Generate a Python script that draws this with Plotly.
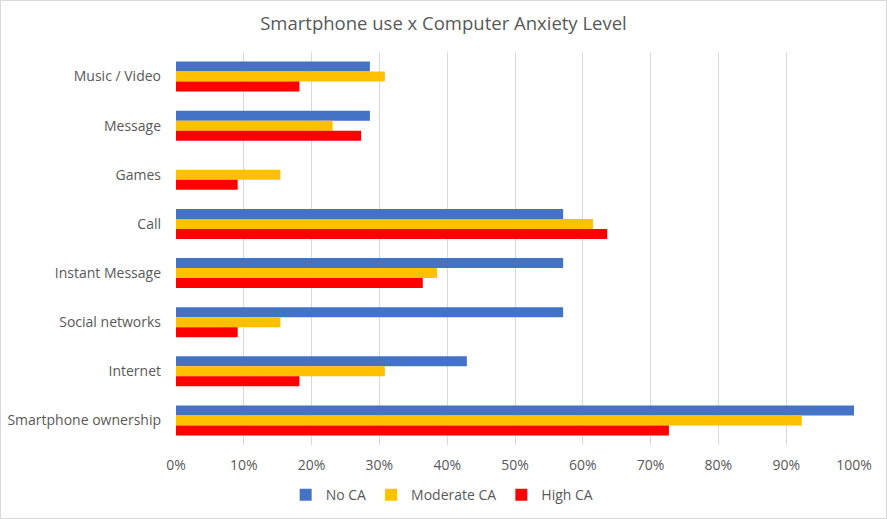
import plotly.graph_objects as go

categories = ["Music / Video", "Message", "Games", "Call", "Instant Message",
              "Social networks", "Internet", "Smartphone ownership"]
no_ca = [28.6, 28.6, 0.0, 57.1, 57.1, 57.1, 42.9, 100.0]
moderate_ca = [30.8, 23.1, 15.4, 61.5, 38.5, 15.4, 30.8, 92.3]
high_ca = [18.2, 27.3, 9.1, 63.6, 36.4, 9.1, 18.2, 72.7]
x_ticks = list(range(0, 101, 10))
x_tick_labels = [f"{v}%" for v in x_ticks]

series = [("No CA", no_ca, "#4472C4"),
          ("Moderate CA", moderate_ca, "#FFC000"),
          ("High CA", high_ca, "#FF0000")]

font_family = "Open Sans, Lato, sans-serif"
text_color = "#595959"

fig = go.Figure()
for name, vals, color in series:
    fig.add_trace(go.Bar(
        y=categories, x=vals, name=name, orientation="h",
        marker=dict(color=color, line=dict(width=0)),
    ))

fig.update_layout(
    width=887, height=519,
    barmode="group", bargap=0.39, bargroupgap=0,
    paper_bgcolor="white", plot_bgcolor="white",
    margin=dict(l=176, r=33, t=52, b=74, autoexpand=False),
    font=dict(family=font_family, color=text_color, size=14),
    title=dict(text="Smartphone use x Computer Anxiety Level",
               x=0.5, xref="container", xanchor="center", y=0.955, yanchor="middle",
               font=dict(size=18.5, color=text_color, family=font_family)),
    legend=dict(orientation="h", x=0.4985, xref="container", xanchor="center",
                y=0.046, yref="container", yanchor="middle",
                bgcolor="rgba(0,0,0,0)",
                font=dict(size=14, color=text_color), itemwidth=30,
                traceorder="normal"),
    xaxis=dict(range=[0, 100], tickvals=x_ticks, ticktext=x_tick_labels,
               showgrid=True, gridcolor="#D9D9D9", gridwidth=1, automargin=False,
               zeroline=False, showline=False, ticks="", ticklabelstandoff=10,
               tickfont=dict(size=14, color=text_color)),
    yaxis=dict(autorange="reversed", showgrid=False, zeroline=False, automargin=False,
               showline=False, ticks="", ticklabelstandoff=14,
               tickfont=dict(size=14, color=text_color)),
    shapes=[dict(type="rect", xref="paper", yref="paper",
                 x0=-175.5/678, x1=1+32.5/678, y0=-73.5/393, y1=1+51.5/393,
                 line=dict(color="#D9D9D9", width=1), fillcolor="rgba(0,0,0,0)",
                 layer="below")],
)

fig.write_html("out.html", config={"displayModeBar": False},
               post_script="document.body.style.margin='0';")
